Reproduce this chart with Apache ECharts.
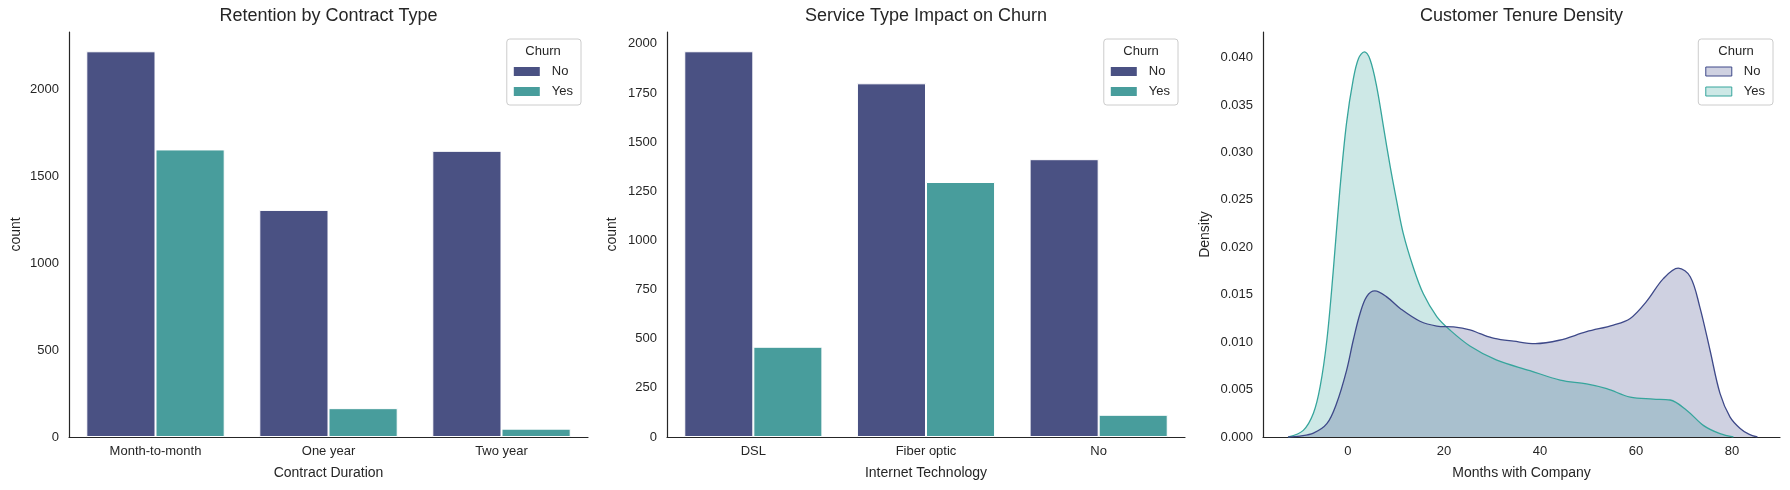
<!DOCTYPE html>
<html>
<head>
<meta charset="utf-8">
<script src="https://cdn.jsdelivr.net/npm/echarts@6/dist/echarts.min.js"></script>
<style>
html,body{margin:0;padding:0;background:#fff;}
#chart{width:1790px;height:490px;}
</style>
</head>
<body>
<div id="chart"></div>
<script>
// ---- data ----
const contractCats = ['Month-to-month', 'One year', 'Two year'];
const contractNo = [2220, 1307, 1647];
const contractYes = [1655, 166, 48];

const internetCats = ['DSL', 'Fiber optic', 'No'];
const internetNo = [1962, 1799, 1413];
const internetYes = [459, 1297, 113];

// KDE of tenure (months, density)
const tenureNo = [
  [-12.5, 0], [-10, 0.0001], [-7.2, 0.0004], [-4.4, 0.0014], [-2.4, 0.0035],
  [-0.3, 0.0070], [1.1, 0.0102], [2.5, 0.0130], [3.9, 0.0148], [5.6, 0.0154],
  [8, 0.0148], [11, 0.0135], [15, 0.0122], [18.5, 0.0117], [22, 0.0116],
  [25.4, 0.0113], [27.5, 0.0109], [30.5, 0.0104], [34.5, 0.0101], [39, 0.00985],
  [44, 0.0102], [49.7, 0.0111], [55.3, 0.0118], [58.8, 0.0125], [62.2, 0.0143],
  [65.7, 0.0167], [68.8, 0.0178], [71.3, 0.0169], [73.3, 0.0137], [75.4, 0.0092],
  [77.5, 0.0046], [79.6, 0.0021], [81.7, 0.0009], [83.5, 0.0003], [85.3, 0]
];
const tenureYes = [
  [-12.4, 0], [-9.3, 0.0007], [-7.2, 0.0025], [-5.8, 0.0053], [-4.4, 0.0102],
  [-3.1, 0.0173], [-1.7, 0.0260], [-0.3, 0.0331], [1.1, 0.0377], [2.2, 0.0399],
  [3.4, 0.0406], [4.6, 0.0398], [6, 0.0369], [7.4, 0.0327], [8.8, 0.0285],
  [10.1, 0.0250], [11.5, 0.0215], [13.6, 0.0179], [15.7, 0.0151], [18.5, 0.0127],
  [21.2, 0.0113], [25.4, 0.0096], [31, 0.0081], [37.9, 0.0070], [44.2, 0.0060],
  [49.7, 0.0056], [53.9, 0.0051], [58.8, 0.0042], [63.6, 0.0040], [67.1, 0.0039],
  [70.6, 0.0028], [74.1, 0.0012], [77.5, 0.00035], [80.3, 0]
];

const titles = ['Retention by Contract Type', 'Service Type Impact on Churn', 'Customer Tenure Density'];
const xNames = ['Contract Duration', 'Internet Technology', 'Months with Company'];
const yNames = ['count', 'count', 'Density'];
const legendTitle = 'Churn';

// ---- style ----
const FONT = "'Liberation Sans', Arial, sans-serif";
const TXT = '#262626';
const barNo = '#4a5183', barYes = '#489d9c';
const kdeNo = '#3e4989', kdeYes = '#36a59c';

const grids = [
  {left: 69, right: 1790 - 588, top: 32, bottom: 53},
  {left: 667, right: 1790 - 1185, top: 32, bottom: 53},
  {left: 1263, right: 10, top: 32, bottom: 53}
];
const axisLine = {show: true, onZero: false, lineStyle: {color: TXT, width: 1.2}};
const tickLabel = {color: TXT, fontSize: 13, fontFamily: FONT};
const nameStyle = {color: TXT, fontSize: 14, fontFamily: FONT};

function catX(i, cats) {
  return {type: 'category', gridIndex: i, data: cats, axisLine: axisLine,
    axisTick: {show: false}, axisLabel: Object.assign({margin: 8}, tickLabel),
    name: xNames[i], nameLocation: 'middle', nameGap: 29, nameTextStyle: nameStyle};
}
function valY(i, max, interval, fmt, gap) {
  return {type: 'value', gridIndex: i, min: 0, max: max, interval: interval,
    axisLine: axisLine, axisTick: {show: false}, splitLine: {show: false},
    axisLabel: Object.assign({margin: 10, showMaxLabel: false, formatter: fmt}, tickLabel),
    name: yNames[i], nameLocation: 'middle', nameGap: gap, nameTextStyle: nameStyle};
}

function legend(rightEdge, items) {
  return {
    orient: 'vertical', right: 1790 - rightEdge, top: 39,
    padding: [26, 8, 7, 7], itemWidth: 26, itemHeight: 9, itemGap: 7,
    icon: 'rect', selectedMode: false,
    borderColor: '#cccccc', borderWidth: 1, borderRadius: 3,
    backgroundColor: 'rgba(255,255,255,0.8)',
    textStyle: {color: TXT, fontSize: 13, fontFamily: FONT, padding: [0, 0, 0, 7]},
    data: items
  };
}
const barLegendItems = [
  {name: 'No', itemStyle: {color: barNo, borderWidth: 0}},
  {name: 'Yes', itemStyle: {color: barYes, borderWidth: 0}}
];
const kdeLegendItems = [
  {name: 'No', itemStyle: {color: 'rgba(62,73,137,0.25)', borderColor: kdeNo, borderWidth: 1}},
  {name: 'Yes', itemStyle: {color: 'rgba(54,165,156,0.25)', borderColor: kdeYes, borderWidth: 1}}
];

function barSeries(name, data, idx, color) {
  return {type: 'bar', name: name, data: data, xAxisIndex: idx, yAxisIndex: idx,
    barGap: '0%', barCategoryGap: '20%',
    itemStyle: {color: color, borderColor: '#ffffff', borderWidth: 1}};
}
function kdeSeries(name, data, color, rgba) {
  return {type: 'line', name: name, data: data, xAxisIndex: 2, yAxisIndex: 2,
    smooth: 0.35, showSymbol: false, symbol: 'none',
    lineStyle: {color: color, width: 1.3},
    itemStyle: {color: color},
    areaStyle: {color: rgba, opacity: 1}};
}

const legendCenters = [543, 1141, 1736];

const option = {
  animation: false,
  backgroundColor: '#ffffff',
  textStyle: {fontFamily: FONT},
  title: titles.map((t, i) => ({
    text: t, left: (grids[i].left + (1790 - grids[i].right)) / 2, top: 7,
    textAlign: 'center', padding: 0,
    textStyle: {color: TXT, fontSize: 18, fontWeight: 'normal', fontFamily: FONT}
  })),
  grid: grids,
  xAxis: [
    catX(0, contractCats),
    catX(1, internetCats),
    {type: 'value', gridIndex: 2, min: -17.7, max: 90,
      axisLine: axisLine, axisTick: {show: false}, splitLine: {show: false},
      axisLabel: Object.assign({margin: 8, showMinLabel: false, showMaxLabel: false,
        formatter: v => (Math.abs(v % 20) < 1e-9 ? String(v) : '')}, tickLabel),
      name: xNames[2], nameLocation: 'middle', nameGap: 29, nameTextStyle: nameStyle}
  ],
  yAxis: [
    valY(0, 2331, 500, v => String(v), 46),
    valY(1, 2060, 250, v => String(v), 48),
    valY(2, 0.0427, 0.005, v => v.toFixed(3), 51)
  ],
  legend: [
    legend(581, barLegendItems),
    legend(1178, barLegendItems),
    legend(1773, kdeLegendItems)
  ],
  graphic: legendCenters.map(x => ({
    type: 'text', x: x, y: 51, z: 100,
    style: {text: legendTitle, fill: TXT, fontSize: 13, fontFamily: FONT,
      align: 'center', verticalAlign: 'middle'}
  })),
  series: [
    barSeries('No', contractNo, 0, barNo),
    barSeries('Yes', contractYes, 0, barYes),
    barSeries('No', internetNo, 1, barNo),
    barSeries('Yes', internetYes, 1, barYes),
    kdeSeries('Yes', tenureYes, kdeYes, 'rgba(54,165,156,0.25)'),
    kdeSeries('No', tenureNo, kdeNo, 'rgba(62,73,137,0.25)')
  ]
};

const chart = echarts.init(document.getElementById('chart'), null, {renderer: 'canvas'});
chart.setOption(option);
</script>
</body>
</html>
